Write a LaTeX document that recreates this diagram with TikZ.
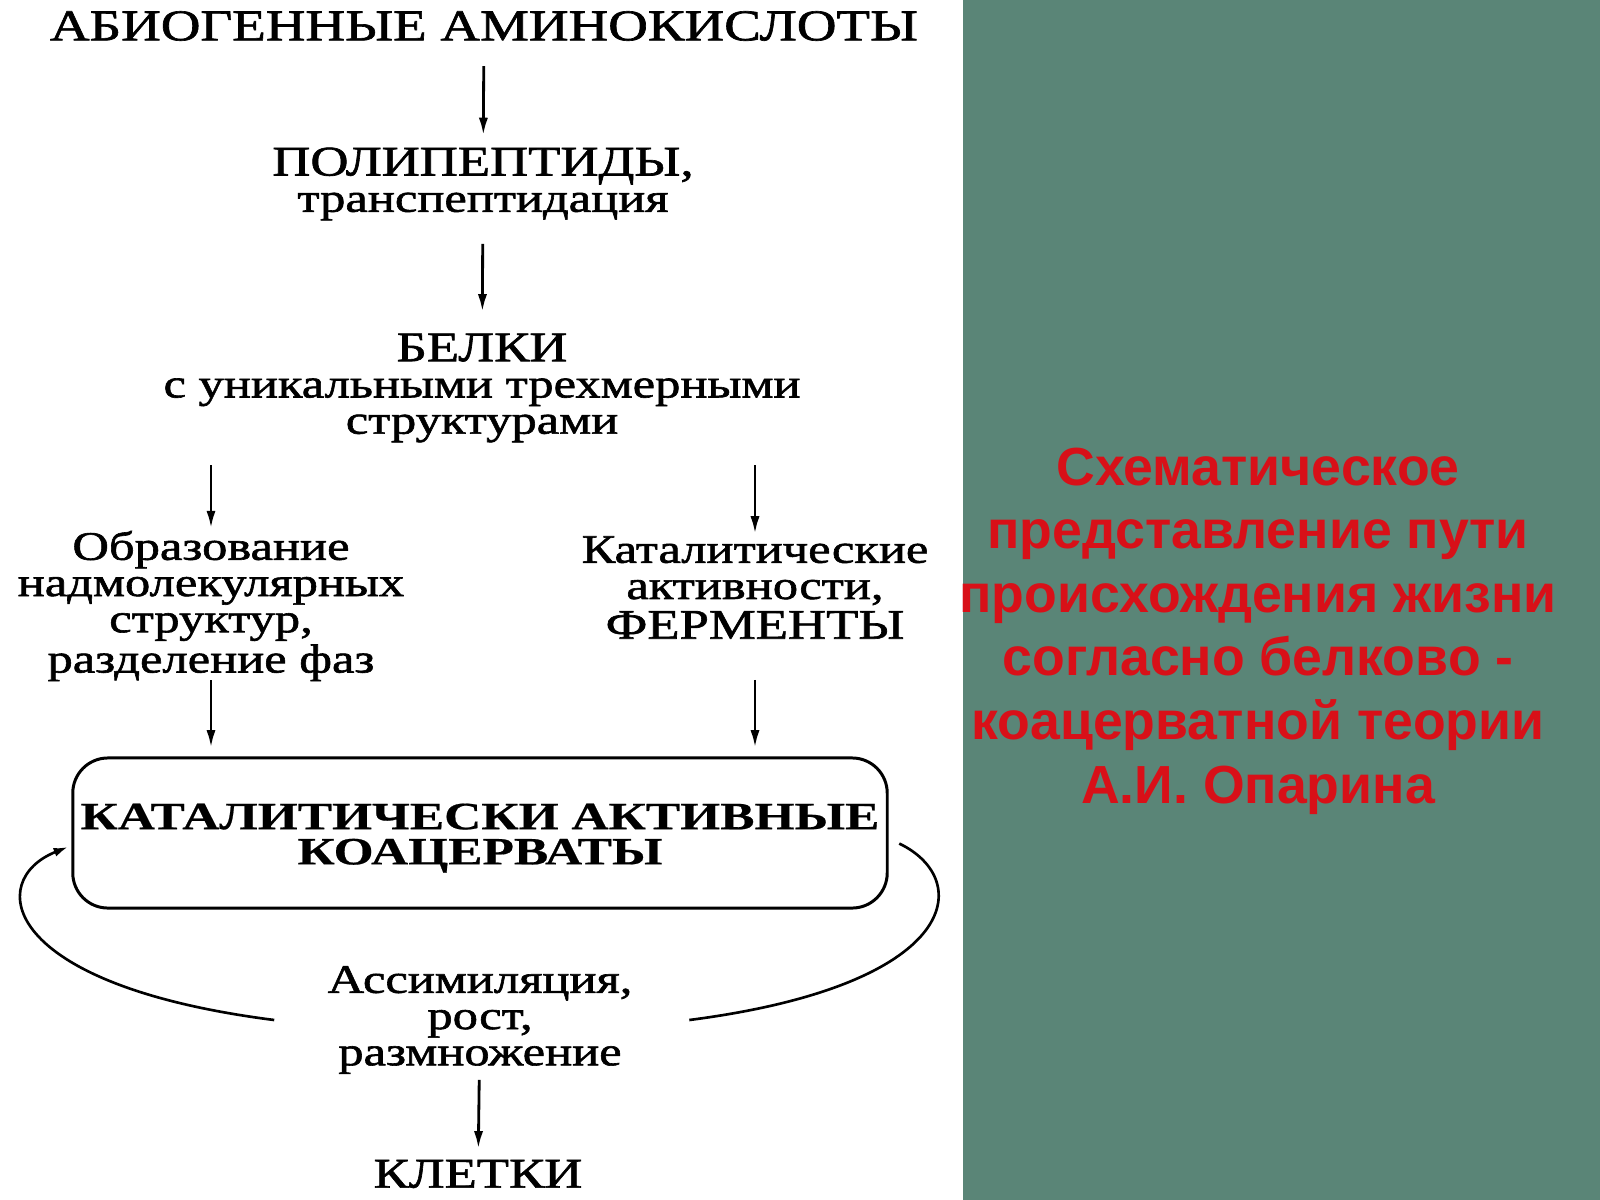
\documentclass[tikz,border=0pt]{standalone}
\usepackage{fontspec}
\setmainfont{Liberation Serif}
\newfontfamily\scanfont[FakeStretch=1.25, FakeBold=1.5]{Liberation Serif}
\newfontfamily\boxfont[FakeStretch=1.33, FakeBold=0.5]{Liberation Serif}
\newfontfamily\captionfont{Liberation Sans}
\newcommand\capsize{\fontsize{12}{10.3}\selectfont}
\usetikzlibrary{arrows.meta}
\definecolor{panel-green}{HTML}{5A8577}
\definecolor{caption-red}{HTML}{D81018}
\tikzset{
    scan-text/.style = {font=\scanfont\fontsize{11.5}{10.3}\selectfont, align=center, inner sep=0pt},
    coac-box/.style = {draw, line width=0.85pt, rounded corners=10pt, minimum width=8.14cm, minimum height=1.5cm, inner sep=0pt, align=center, font=\boxfont\bfseries\fontsize{11}{10}\selectfont},
    caption-text/.style = {text=caption-red, align=center, inner sep=0pt, font=\captionfont\bfseries\fontsize{15.25}{18.07}\selectfont},
    arr/.style = {-{Latex[length=5pt,width=2.6pt]}, line width=0.8pt},
    loop-line/.style = {line width=0.75pt},
}

\begin{document}
\begin{tikzpicture}[x=0.01cm, y=-0.01cm]
\useasboundingbox (0,0) rectangle (1600,1200);
\fill[panel-green] (963,0) rectangle (1600,1200);

% chain down the left half
\node [scan-text] (amino) at (484,26) {\fontsize{12.5}{10.3}\selectfont АБИОГЕННЫЕ АМИНОКИСЛОТЫ};
\node [scan-text] (poly) at (483,184) {{\capsize ПОЛИПЕПТИДЫ,}\\транспептидация};
\node [scan-text] (belki) at (482,388) {{\capsize БЕЛКИ}\\с уникальными трехмерными\\структурами};
\node [scan-text] (phase) at (211,606) {Образование\\надмолекулярных\\структур,\\разделение фаз};
\node [scan-text] (enzyme) at (755,587.5) {Каталитические\\активности,\\[1pt]{\capsize ФЕРМЕНТЫ}};
\node [coac-box] (coac) at (480,833) {\rule{0pt}{10.2pt}КАТАЛИТИЧЕСКИ АКТИВНЫЕ\\КОАЦЕРВАТЫ};
\node [scan-text] (assim) at (480,1020) {Ассимиляция,\\рост,\\размножение};
\node [scan-text] (cells) at (478,1174) {\capsize КЛЕТКИ};

\draw[arr, shorten <=7pt, shorten >=3.3pt] (amino) -- (poly);
\draw[arr, shorten <=6.5pt, shorten >=6pt] (poly) -- (belki);
\draw[arr, shorten <=6.3pt, shorten >=0.5pt] (phase |- belki.south) -- (phase.north);
\draw[arr, shorten <=6.3pt, shorten >=0.5pt] (enzyme |- belki.south) -- (enzyme.north);
\draw[arr, shorten <=-0.5pt, shorten >=2.5pt] (phase.south) -- (phase.south |- coac.north);
\draw[arr, shorten <=11.5pt, shorten >=2.5pt] (enzyme.south) -- (enzyme.south |- coac.north);
\draw[arr, shorten <=1.5pt, shorten >=3pt] (assim) -- (cells);

% cycle round the coacervates
\draw[loop-line] ([xshift=3pt, yshift=-3pt]coac.east) .. controls (975,880) and (960,985) .. ([xshift=16pt, yshift=0pt]assim.east);
\draw[loop-line, -{Latex[length=4pt,width=2.6pt]}] ([xshift=-15pt, yshift=0pt]assim.west) .. controls (0,985) and (-15,880) .. ([xshift=-1pt, yshift=-4pt]coac.west);

\node [caption-text] (caption) at (1258,631) {Схематическое\\представление пути\\происхождения жизни\\согласно белково -\\коацерватной теории\\А.И. Опарина};
\end{tikzpicture}
\end{document}
